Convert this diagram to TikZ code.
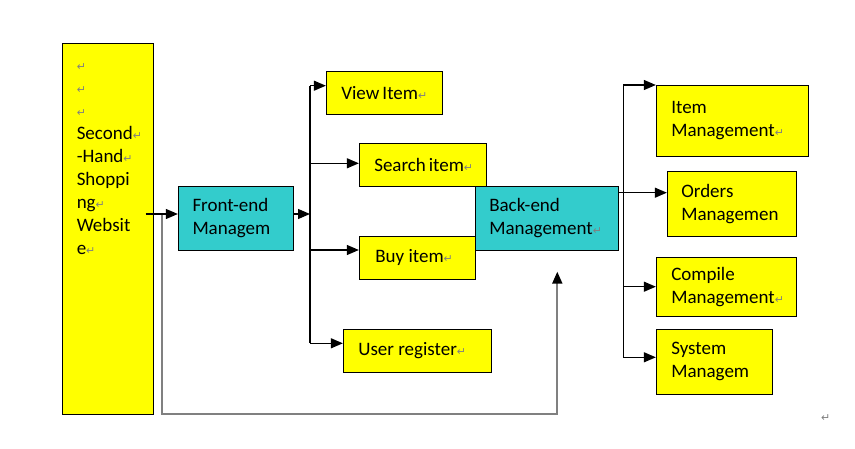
\documentclass[tikz,border=0pt]{standalone}
\usepackage{fontspec}
\setmainfont{Carlito}
\newfontfamily\markfont{DejaVu Sans}
\usetikzlibrary{arrows.meta}

\definecolor{boxyellow}{RGB}{255,255,0}
\definecolor{boxcyan}{RGB}{51,204,204}
\definecolor{markgray}{RGB}{128,128,128}
\definecolor{linegray}{RGB}{128,128,128}

\newcommand\pmark{{\markfont\fontsize{11}{11}\selectfont\textcolor{markgray}{↵}}}
\hyphenpenalty=10000
\exhyphenpenalty=10000

\tikzset{
	ybox/.style={draw, fill=boxyellow, line width=0.9pt, align=flush left, inner sep=0pt},
	cbox/.style={ybox, fill=boxcyan},
	link/.style={line width=1.2pt, -{Triangle[length=12pt,width=10pt]}},
	bus/.style={line width=1.2pt},
	back/.style={line width=1.8pt, draw=linegray, -{Triangle[length=12pt,width=10pt,color=black]}},
}

\begin{document}
\begin{tikzpicture}[x=1pt, y=-1pt, font=\fontsize{19}{23}\selectfont]
	\useasboundingbox (0,0) rectangle (855,449);
	% website and front end
	\node[ybox, minimum width=91pt, minimum height=370.7pt] (site) at (107.8,228.6) {};
	\node[anchor=north west, align=flush left, inner sep=0pt] (sitetext) at ([xshift=14.7pt,yshift=-11.1pt]site.north west)
		{\strut\pmark\\ \pmark\\ \pmark\\ Second\pmark\\ -Hand\pmark\\ Shoppi\\ ng\pmark\\ Websit\\ e\pmark};
	\node[cbox, minimum width=115.4pt, minimum height=64.3pt, text width=87pt] (front) at (236,218.2) {Front-end\\ Managem};
	% front end items
	\node[ybox, minimum width=116pt, minimum height=42.3pt, text width=86pt] (view) at (384.3,92.9) {View~Item\pmark};
	\node[ybox, minimum width=127pt, minimum height=43pt, text width=97pt] (search) at (422.8,164.8) {Search~item\pmark};
	\node[ybox, minimum width=116pt, minimum height=42.3pt, text width=84pt] (buy) at (417.3,257.9) {Buy~item\pmark};
	\node[ybox, minimum width=148pt, minimum height=43pt, text width=118pt] (user) at (417.3,350.8) {User~register\pmark};
	% back end
	\node[cbox, minimum width=143pt, minimum height=64pt, text width=115pt] (back) at (546.8,218.3) {Back-end\\ Management\pmark};
	\node[ybox, minimum width=152pt, minimum height=71.3pt, text width=122pt] (item) at (732.3,120.7) {Item\\ Management\pmark};
	\node[ybox, minimum width=129pt, minimum height=64.7pt, text width=101pt] (orders) at (731.8,203.7) {Orders\\ Managemen};
	\node[ybox, minimum width=140pt, minimum height=59pt, text width=110pt] (compile) at (726.3,286.8) {Compile\\ Management\pmark};
	\node[ybox, minimum width=116pt, minimum height=65pt, text width=86pt] (system) at (714.3,361.5) {System\\ Managem};
	\node (endmark) at (825.7,417.7) {\pmark};

	% feedback line
	\coordinate (fbstart) at (162,214);
	\coordinate (fbturn) at (557.3,414);
	\coordinate (fbtip) at (557.3,271.7);
	\draw[back] (fbstart) |- (fbturn) -- (fbtip);

	% left bus
	\coordinate (siteout) at (145.7,214);
	\coordinate (ltop) at (310,85.7);
	\coordinate (lbot) at (310,343.3);
	\draw[link] (siteout) -- (siteout -| front.west);
	\draw[link] (front.east |- siteout) -- (siteout -| ltop);
	\draw[bus] (ltop) -- (lbot);
	\foreach \n/\y in {view/85.7, search/163.3, buy/250, user/343.3}
		{\coordinate (l\n) at (310,\y);
		\draw[link] (l\n) -- (l\n -| \n.west);}

	% right bus
	\coordinate (rtop) at (623.3,85);
	\coordinate (rbot) at (623.3,357.3);
	\coordinate (backout) at (618.3,192.3);
	\draw[bus] (backout) -- (backout -| rtop);
	\draw[bus] (rtop) -- (rbot);
	\foreach \n/\y in {item/85, orders/192.7, compile/286.7, system/357.3}
		{\coordinate (r\n) at (623.3,\y);
		\draw[link] (r\n) -- (r\n -| \n.west);}
\end{tikzpicture}
\end{document}
